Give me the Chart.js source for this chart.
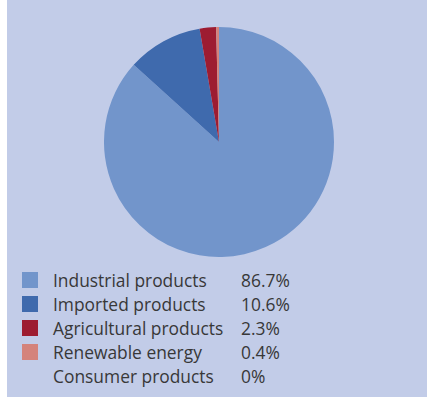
<!DOCTYPE html>
<html>
<head>
<meta charset="utf-8">
<script src="https://cdn.jsdelivr.net/npm/chart.js@4.4.0/dist/chart.umd.min.js"></script>
<style>
    body { margin: 0; width: 427px; height: 403px; background: #fff; position: relative; overflow: hidden; font-family: 'Open Sans', sans-serif; }
    .panel { position: absolute; left: 7px; top: 0; width: 420px; height: 397px; background: #c2cce8; }
    .chart-box { position: absolute; left: 104px; top: 27px; width: 230px; height: 230px; }
    .legend { position: absolute; left: 22px; top: 268px; margin: 0; padding: 0; list-style: none; }
    .legend li { height: 24px; line-height: 24px; font-size: 17.4px; color: #383838; position: relative; white-space: nowrap; }
    .legend .swatch { position: absolute; left: 0; top: 4px; width: 16px; height: 16px; }
    .legend .name { position: absolute; left: 31px; }
    .legend .pct { position: absolute; left: 219px; }
</style>
</head>
<body>
<div class="panel"></div>
<div class="chart-box"><canvas id="pieChart"></canvas></div>
<ul class="legend" id="legend"></ul>
<script>
// Chart data
const categories = ['Industrial products', 'Imported products', 'Agricultural products', 'Renewable energy', 'Consumer products'];
const shares = [86.7, 10.6, 2.3, 0.4, 0];
const shareLabels = ['86.7%', '10.6%', '2.3%', '0.4%', '0%'];
const colors = ['#7295cb', '#3f6aad', '#9d1c31', '#d4837b', 'transparent'];

// Build the legend beside the pie
function buildLegend() {
    const legend = document.getElementById('legend');
    categories.forEach((name, i) => {
        const li = document.createElement('li');
        li.innerHTML = `
            <span class="swatch" style="background:${colors[i]}"></span>
            <span class="name">${name}</span>
            <span class="pct">${shareLabels[i]}</span>
        `;
        legend.appendChild(li);
    });
}

buildLegend();

const ctx = document.getElementById('pieChart').getContext('2d');
new Chart(ctx, {
    type: 'pie',
    data: {
        labels: categories,
        datasets: [{
            data: shares,
            backgroundColor: colors,
            borderWidth: 0
        }]
    },
    options: {
        responsive: true,
        maintainAspectRatio: false,
        animation: false,
        layout: { padding: 0 },
        plugins: {
            legend: { display: false },
            tooltip: { enabled: false }
        }
    }
});
</script>
</body>
</html>
